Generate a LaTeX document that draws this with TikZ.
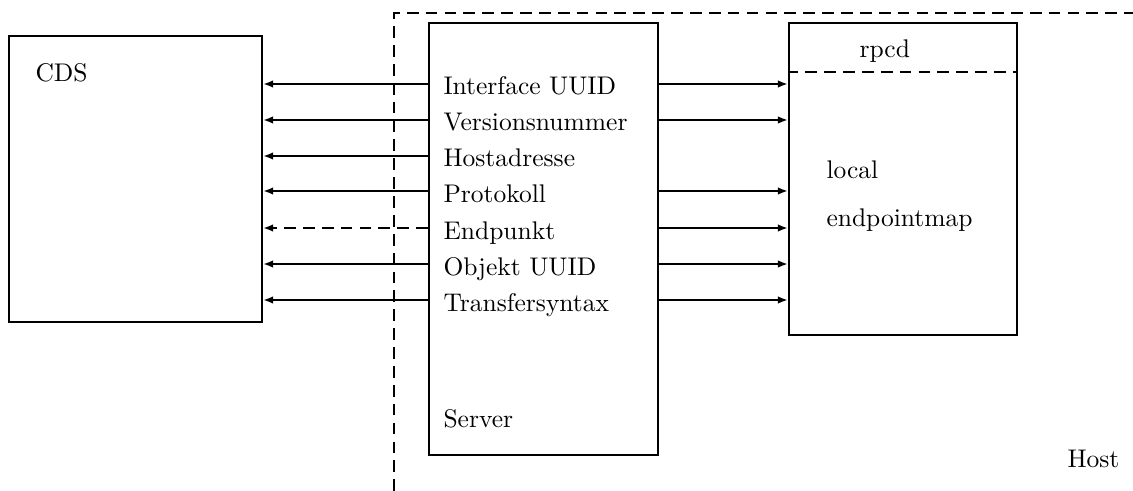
\documentclass[tikz,border=0pt]{standalone}
\usetikzlibrary{arrows.meta,fit}
\begin{document}
\begin{tikzpicture}[x=0.392pt,y=-0.392pt,
  box/.style={draw,line width=0.8pt,inner sep=0pt},
  lbl/.style={anchor=base west,inner sep=0pt},
  flow/.style={line width=0.8pt,-{Latex[length=4pt,width=3pt]}},
  hostline/.style={line width=1.1pt,dash pattern=on 4.6pt off 2.8pt},
  sepline/.style={line width=0.8pt,dash pattern=on 4.6pt off 2.8pt}]
\useasboundingbox (0,0) rectangle (1133,491);

% host boundary
\coordinate (hb) at (394,491);
\coordinate (hc) at (394,13);
\coordinate (hr) at (1133,13);
\draw[hostline] (hb) -- (hc) -- (hr);

% boxes
\node[box,fit={(9,36) (262,322)}] (cds) {};
\node[box,fit={(429,23) (658,455)}] (srv) {};
\node[box,fit={(789,23) (1017,335)}] (rpcd) {};
\coordinate (rsep) at (789,72);
\draw[sepline,dash phase=1pt] (rsep) -- (rsep -| rpcd.east);

% box titles
\node[lbl] (tcds) at (35,82) {CDS};
\node[lbl] (trpcd) at (859,58) {rpcd};
\node[lbl] (tloc) at (826,179) {local};
\node[lbl] (tmap) at (826,227) {endpointmap};
\node[lbl] (tsrv) at (443,427) {Server};
\node[lbl] (thost) at (1067,467) {Host};

% binding information rows
\foreach \n/\y/\t in {r1/84/Interface UUID,r2/120/Versionsnummer,r3/156/Hostadresse,
  r4/191/Protokoll,r5/228/Endpunkt,r6/264/Objekt UUID,r7/300/Transfersyntax}{
  \coordinate (\n) at (0,\y);
  \node[lbl] (t\n) at (443,\y+11) {\t};
}

% to the directory service
\foreach \n in {r1,r2,r3,r4,r6,r7}
  \draw[flow] (srv.west |- \n) -- (cds.east |- \n);
\draw[flow,dash pattern=on 4.6pt off 2.8pt] (srv.west |- r5) -- (cds.east |- r5);

% to the local endpoint map
\foreach \n in {r1,r2,r4,r5,r6,r7}
  \draw[flow] (srv.east |- \n) -- (rpcd.west |- \n);
\end{tikzpicture}
\end{document}
